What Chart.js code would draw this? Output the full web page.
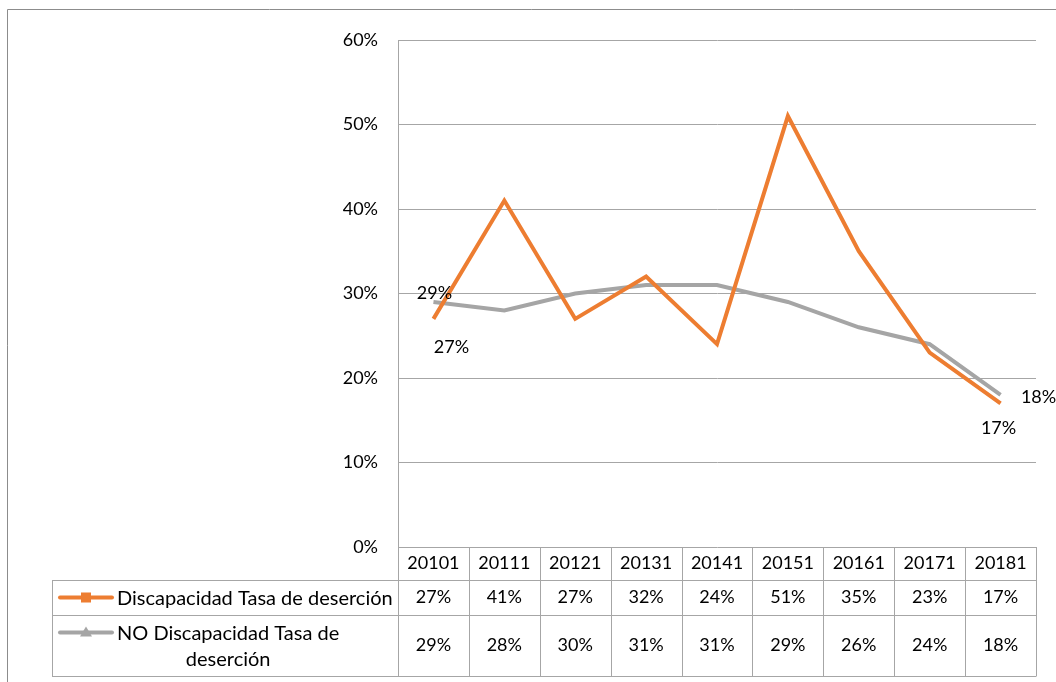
<!DOCTYPE html>
<html>
<head>
<meta charset="utf-8">
<script src="https://cdn.jsdelivr.net/npm/chart.js@4"></script>
<style>
html,body{margin:0;padding:0;background:#fff;}
#wrap{width:1056px;height:682px;position:relative;}
</style>
</head>
<body>
<div id="wrap"><canvas id="c" width="1056" height="682"></canvas></div>
<script>
const categories = ["20101","20111","20121","20131","20141","20151","20161","20171","20181"];
const discapacidad = [27,41,27,32,24,51,35,23,17];
const noDiscapacidad = [29,28,30,31,31,29,26,24,18];
const seriesNames = ["Discapacidad Tasa de deserción", "NO Discapacidad Tasa de deserción"];
const yTicks = [0,10,20,30,40,50,60];

const FONT = "Lato, 'Open Sans', sans-serif";
const FS = 18;
const FS_LABEL = 20;
const GRID = "#a6a6a6";
const ORANGE = "#ED7D31";
const GRAY = "#A5A5A5";

const tablePlugin = {
  id: 'tablePlugin',
  afterDraw(chart) {
    const ctx = chart.ctx;
    const x = chart.scales.x;
    const ca = chart.chartArea;
    const n = categories.length;
    const step = (ca.right - ca.left) / n;
    const yHead = ca.bottom, yR1 = 580, yR2 = 615, yEnd = 676, xLeft = 52;
    ctx.save();
    // outer frame
    ctx.strokeStyle = "#8c8c8c";
    ctx.lineWidth = 1;
    ctx.beginPath();
    ctx.moveTo(7.5, 682); ctx.lineTo(7.5, 9.5); ctx.lineTo(1056, 9.5);
    ctx.stroke();
    // table lines
    ctx.strokeStyle = GRID;
    ctx.beginPath();
    [yR1, yR2, yEnd].forEach(y => { ctx.moveTo(xLeft, y + 0.5); ctx.lineTo(ca.right, y + 0.5); });
    ctx.moveTo(xLeft + 0.5, yR1); ctx.lineTo(xLeft + 0.5, yEnd);
    for (let i = 0; i <= n; i++) {
      const xx = Math.round(ca.left + i * step) + 0.5;
      ctx.moveTo(xx, yHead); ctx.lineTo(xx, yEnd + 0.5);
    }
    ctx.stroke();
    // values
    ctx.fillStyle = "#000";
    ctx.font = FS + "px " + FONT;
    ctx.textAlign = "center";
    ctx.textBaseline = "middle";
    for (let i = 0; i < n; i++) {
      const cx = x.getPixelForValue(i);
      ctx.fillText(discapacidad[i] + "%", cx, (yR1 + yR2) / 2);
      ctx.fillText(noDiscapacidad[i] + "%", cx, (yR2 + yEnd) / 2);
    }
    // legend keys
    const r1 = (yR1 + yR2) / 2, r2 = (yR2 + yEnd) / 2 - 13;
    ctx.lineCap = "round";
    ctx.lineWidth = 4;
    ctx.strokeStyle = ORANGE;
    ctx.beginPath(); ctx.moveTo(60, r1); ctx.lineTo(112, r1); ctx.stroke();
    ctx.fillStyle = ORANGE;
    ctx.fillRect(81, r1 - 5, 10, 10);
    ctx.strokeStyle = GRAY;
    ctx.beginPath(); ctx.moveTo(60, r2); ctx.lineTo(112, r2); ctx.stroke();
    ctx.fillStyle = GRAY;
    ctx.beginPath(); ctx.moveTo(86, r2 - 6); ctx.lineTo(92, r2 + 4); ctx.lineTo(80, r2 + 4); ctx.closePath(); ctx.fill();
    // row labels
    ctx.fillStyle = "#000";
    ctx.font = FS_LABEL + "px " + FONT;
    ctx.textAlign = "left";
    ctx.fillText(seriesNames[0], 117, r1 + 1);
    const words = seriesNames[1].split(" ");
    const l1 = words.slice(0, -1).join(" "), l2 = words[words.length - 1];
    ctx.fillText(l1, 117, r2 + 1);
    const w1 = ctx.measureText(l1).width;
    ctx.textAlign = "center";
    ctx.fillText(l2, 117 + w1 / 2, r2 + 27);
    // data labels (first & last)
    ctx.font = FS + "px " + FONT;
    const labelSpec = [
      {ds: 0, i: 0, dx: 18, dy: 28, data: discapacidad},
      {ds: 1, i: 0, dx: 1, dy: -9, data: noDiscapacidad},
      {ds: 0, i: n - 1, dx: -2, dy: 25, data: discapacidad},
      {ds: 1, i: n - 1, dx: 38, dy: 2, data: noDiscapacidad}
    ];
    ctx.textAlign = "center";
    labelSpec.forEach(s => {
      const el = chart.getDatasetMeta(s.ds).data[s.i];
      ctx.fillText(s.data[s.i] + "%", el.x + s.dx, el.y + s.dy);
    });
    ctx.restore();
  }
};

new Chart(document.getElementById('c'), {
  type: 'line',
  data: {
    labels: categories,
    datasets: [
      {label: seriesNames[0], data: discapacidad, borderColor: ORANGE, backgroundColor: ORANGE, borderWidth: 4, pointRadius: 0, tension: 0},
      {label: seriesNames[1], data: noDiscapacidad, borderColor: GRAY, backgroundColor: GRAY, borderWidth: 4, pointRadius: 0, tension: 0}
    ]
  },
  options: {
    responsive: false,
    animation: false,
    devicePixelRatio: 1,
    layout: {padding: {top: 40, right: 20, left: 0, bottom: 0}},
    plugins: {legend: {display: false}, tooltip: {enabled: false}},
    scales: {
      x: {
        offset: true,
        grid: {display: false},
        border: {display: false},
        ticks: {color: "#000", font: {family: FONT, size: FS}, padding: -3, maxRotation: 0},
        afterFit(s) { s.height = 135; }
      },
      y: {
        min: 0, max: 60,
        afterBuildTicks(s) { s.ticks = yTicks.map(v => ({value: v})); },
        grid: {color: GRID, drawTicks: false},
        border: {color: GRID},
        ticks: {color: "#000", font: {family: FONT, size: FS}, padding: 20, callback: v => v + "%"},
        afterFit(s) { s.width = 398; }
      }
    }
  },
  plugins: [tablePlugin]
});
</script>
</body>
</html>
